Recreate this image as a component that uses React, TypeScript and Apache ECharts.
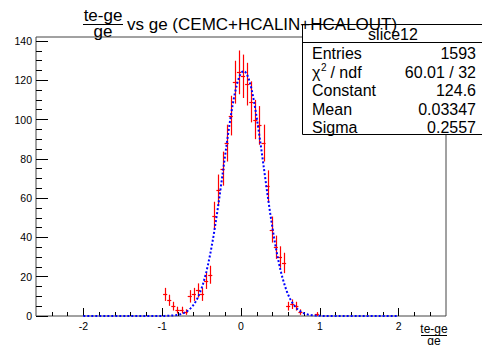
import React, { useEffect, useRef } from "react";
import * as echarts from "echarts";

// Histogram "slice12": bin centers (bin width 0.052 over -2.6..2.6) and counts
const binCenters = [
  -0.962, -0.91, -0.858, -0.806, -0.754, -0.702, -0.65, -0.598, -0.546, -0.494,
  -0.442, -0.39, -0.338, -0.286, -0.234, -0.182, -0.13, -0.078, -0.026, 0.026,
  0.078, 0.13, 0.182, 0.234, 0.286, 0.338, 0.39, 0.442, 0.494, 0.546,
  0.598, 0.65, 0.702, 0.754, 0.806, 0.858, 0.91, 0.962,
];
const binCounts = [
  11, 8, 5, 3, 3, 2, 10, 11, 13, 11,
  18, 21, 51, 64, 75, 88, 102, 119, 124, 122,
  118, 109, 100, 97, 88, 66, 44, 35, 30, 27,
  5, 6, 5, 2, 0, 0, 0, 1,
];
const binWidth = 0.052;

// Gaussian fit parameters (from the stats box)
const fitConstant = 124.6;
const fitMean = 0.03347;
const fitSigma = 0.2557;
const fitRange = [-2, 2];

// Stats box rows
const statLabels = ["Entries", "χ2 / ndf", "Constant", "Mean", "Sigma"];
const statValues = ["1593", "60.01 / 32", "124.6", "0.03347", "0.2557"];

// Axis ticks
const xMajorTicks = [-2, -1, 0, 1, 2];
const xMinorTicks = [-2.4, -2.2, -1.8, -1.6, -1.4, -1.2, -0.8, -0.6, -0.4, -0.2, 0.2, 0.4, 0.6, 0.8, 1.2, 1.4, 1.6, 1.8, 2.2, 2.4];
const yMajorTicks = [0, 20, 40, 60, 80, 100, 120, 140];
const yMinorTicks = [5, 10, 15, 25, 30, 35, 45, 50, 55, 65, 70, 75, 85, 90, 95, 105, 110, 115, 125, 130, 135];

const FONT = "Liberation Sans, Arial, Helvetica, sans-serif";

export default function App() {
  const ref = useRef<HTMLDivElement>(null);
  useEffect(() => {
    if (!ref.current) return;
    const chart = echarts.init(ref.current, null, { renderer: "svg" });

    const histData = binCenters
      .map((c, i) => [c, binCounts[i], Math.sqrt(binCounts[i])])
      .filter((d) => d[1] > 0);

    const fitData: number[][] = [];
    for (let k = 0; k <= 400; k++) {
      const x = fitRange[0] + ((fitRange[1] - fitRange[0]) * k) / 400;
      const z = (x - fitMean) / fitSigma;
      fitData.push([x, fitConstant * Math.exp(-0.5 * z * z)]);
    }

    const rowY = [53.5, 72, 90.5, 109, 127.5];
    const statGraphics: any[] = [];
    statLabels.forEach((lab, i) => {
      if (i === 1) {
        statGraphics.push({ type: "text", x: 312, y: rowY[i], style: { text: "χ", font: `16px ${FONT}`, fill: "#000", verticalAlign: "middle" } });
        statGraphics.push({ type: "text", x: 321, y: rowY[i] - 5, style: { text: "2", font: `10px ${FONT}`, fill: "#000", verticalAlign: "middle" } });
        statGraphics.push({ type: "text", x: 326, y: rowY[i], style: { text: " / ndf", font: `16px ${FONT}`, fill: "#000", verticalAlign: "middle" } });
      } else {
        statGraphics.push({ type: "text", x: 312, y: rowY[i], style: { text: lab, font: `16px ${FONT}`, fill: "#000", verticalAlign: "middle" } });
      }
      statGraphics.push({ type: "text", x: 476, y: rowY[i], style: { text: statValues[i], font: `16px ${FONT}`, fill: "#000", align: "right", verticalAlign: "middle" } });
    });

    const noLine = { show: false, onZero: false };

    const option: any = {
      animation: false,
      grid: {
        left: 36, right: 36, top: 37, bottom: 29,
        show: true, borderColor: "#444", borderWidth: 1, backgroundColor: "transparent",
        outerBoundsMode: "none",
      },
      xAxis: [
        {
          type: "value", min: -2.6, max: 2.6, position: "bottom",
          axisLine: noLine,
          splitLine: { show: false },
          axisTick: { show: true, inside: true, length: 8, customValues: xMajorTicks, lineStyle: { color: "#000" } },
          axisLabel: { show: true, customValues: xMajorTicks, margin: 4, fontSize: 10.5, fontFamily: FONT, color: "#000" },
        },
        {
          type: "value", min: -2.6, max: 2.6, position: "bottom",
          axisLine: noLine,
          splitLine: { show: false },
          axisTick: { show: true, inside: true, length: 4, customValues: xMinorTicks, lineStyle: { color: "#000" } },
          axisLabel: { show: false },
        },
      ],
      yAxis: [
        {
          type: "value", min: 0, max: 142, position: "left",
          axisLine: noLine,
          splitLine: { show: false },
          axisTick: { show: true, inside: true, length: 12, customValues: yMajorTicks, lineStyle: { color: "#000" } },
          axisLabel: { show: true, customValues: yMajorTicks, margin: 4, fontSize: 10.5, fontFamily: FONT, color: "#000" },
        },
        {
          type: "value", min: 0, max: 142, position: "left",
          axisLine: noLine,
          splitLine: { show: false },
          axisTick: { show: true, inside: true, length: 6, customValues: yMinorTicks, lineStyle: { color: "#000" } },
          axisLabel: { show: false },
        },
      ],
      series: [
        {
          type: "custom",
          xAxisIndex: 0, yAxisIndex: 0,
          data: histData,
          renderItem: (params: any, api: any) => {
            const x = api.value(0), y = api.value(1), e = api.value(2);
            const c = api.coord([x, y]);
            const t = api.coord([x, y + e]);
            const b = api.coord([x, Math.max(0, y - e)]);
            const l = api.coord([x - binWidth / 2, y]);
            const r = api.coord([x + binWidth / 2, y]);
            const cx = Math.round(c[0]) + 0.5;
            const cy = Math.round(c[1]) + 0.5;
            return {
              type: "group",
              children: [
                { type: "line", shape: { x1: cx, y1: t[1], x2: cx, y2: b[1] }, style: { stroke: "#ff0000", lineWidth: 1.2 } },
                { type: "line", shape: { x1: l[0], y1: cy, x2: r[0], y2: cy }, style: { stroke: "#ff0000", lineWidth: 1.2 } },
              ],
            };
          },
          z: 3,
        },
        {
          type: "line",
          xAxisIndex: 0, yAxisIndex: 0,
          data: fitData,
          showSymbol: false,
          symbol: "none",
          lineStyle: { color: "#0000ff", width: 2, type: [2, 2] },
          z: 4,
        },
      ],
      graphic: [
        // stats box
        { type: "rect", shape: { x: 302.5, y: 24.5, width: 200, height: 110 }, style: { fill: "#fff", stroke: "#000", lineWidth: 1 }, z: 10 },
        { type: "line", shape: { x1: 302, y1: 42.5, x2: 482, y2: 42.5 }, style: { stroke: "#000", lineWidth: 1 }, z: 10 },
        { type: "text", x: 393, y: 34, style: { text: "slice12", font: `16px ${FONT}`, fill: "#000", align: "center", verticalAlign: "middle" }, z: 10 },
        ...statGraphics.map((g) => ({ ...g, z: 10 })),
        // title
        { type: "text", x: 103, y: 15, style: { text: "te-ge", font: `17px ${FONT}`, fill: "#000", align: "center", verticalAlign: "middle" }, z: 11 },
        { type: "line", shape: { x1: 83, y1: 24.5, x2: 123, y2: 24.5 }, style: { stroke: "#000", lineWidth: 1.2 }, z: 11 },
        { type: "text", x: 103, y: 31, style: { text: "ge", font: `17px ${FONT}`, fill: "#000", align: "center", verticalAlign: "middle" }, z: 11 },
        { type: "text", x: 127, y: 24, style: { text: "vs ge (CEMC+HCALIN+HCALOUT)", font: `17px ${FONT}`, fill: "#000", align: "left", verticalAlign: "middle" }, z: 11 },
        // x-axis title
        { type: "text", x: 434, y: 329, style: { text: "te-ge", font: `12px ${FONT}`, fill: "#000", align: "center", verticalAlign: "middle" }, z: 11 },
        { type: "line", shape: { x1: 421, y1: 335.5, x2: 447, y2: 335.5 }, style: { stroke: "#000", lineWidth: 1 }, z: 11 },
        { type: "text", x: 434, y: 341, style: { text: "ge", font: `12px ${FONT}`, fill: "#000", align: "center", verticalAlign: "middle" }, z: 11 },
      ],
    };
    chart.setOption(option);
    return () => chart.dispose();
  }, []);
  return (
    <div
      ref={ref}
      style={{ position: "fixed", left: 0, top: 0, width: 482, height: 345, background: "#fff" }}
    />
  );
}
